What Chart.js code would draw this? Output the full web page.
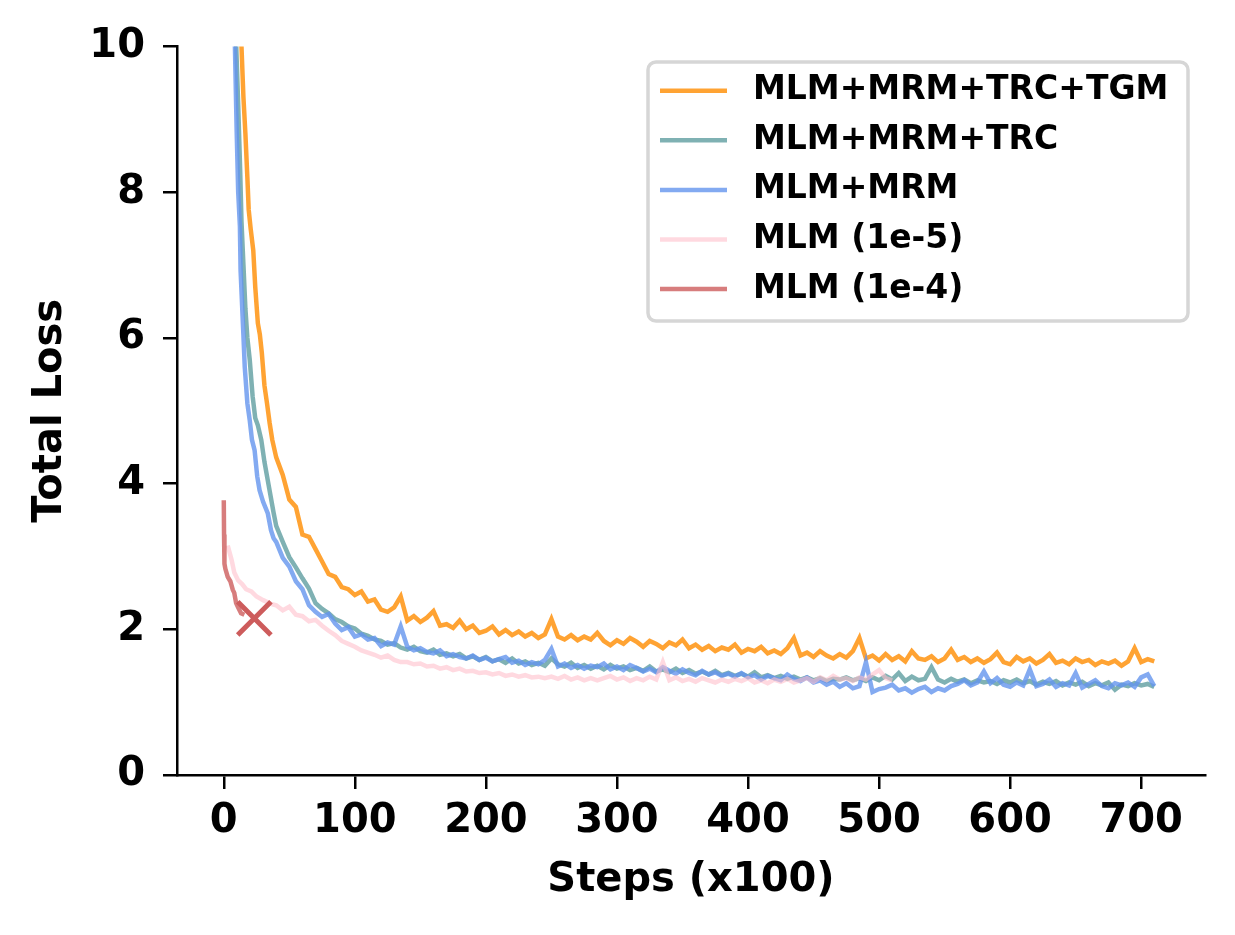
<!DOCTYPE html>
<html>
<head>
<meta charset="utf-8">
<script src="https://cdn.jsdelivr.net/npm/chart.js@4.4.1/dist/chart.umd.min.js"></script>
<style>
  html, body { margin: 0; padding: 0; background: #fff; }
  #wrap { width: 1235px; height: 935px; }
</style>
</head>
<body>
<div id="wrap"><canvas id="lossChart" width="1235" height="935"></canvas></div>
<script>
// legend names, in legend order
var seriesNames = ['MLM+MRM+TRC+TGM', 'MLM+MRM+TRC', 'MLM+MRM', 'MLM (1e-5)', 'MLM (1e-4)'];
var xTicks = [0, 100, 200, 300, 400, 500, 600, 700];
var yTicks = [0, 2, 4, 6, 8, 10];

// early part of each run (steps x100)
var tgmHeadSteps = [11, 12.5, 13.5, 15, 16.5, 18, 19, 20.5, 22.5, 24, 26, 27.5, 29, 31, 33, 35, 37];
var tgmHead = [11.2, 10.4, 10.0, 9.3, 8.8, 8.2, 7.76, 7.5, 7.2, 6.7, 6.2, 6.05, 5.8, 5.35, 5.1, 4.83, 4.6];
var trcHeadSteps = [8.5, 9.5, 11, 12.5, 13.5, 15, 16.5, 18, 19.8, 22, 24, 26, 28.6, 31, 33.6, 36, 38];
var trcHead = [11, 10, 9.2, 8.3, 7.6, 7.0, 6.4, 6.0, 5.7, 5.2, 4.9, 4.8, 4.6, 4.3, 4.04, 3.8, 3.6];
var mrmHeadSteps = [7.5, 8.5, 9.8, 11, 12.3, 12.8, 14.8, 16, 18, 19.8, 21.5, 23.5, 25.5, 27.3, 30, 33.6, 36, 38];
var mrmHead = [11, 10.0, 8.86, 8.0, 7.53, 6.93, 6.11, 5.6, 5.1, 4.87, 4.6, 4.46, 4.1, 3.91, 3.75, 3.59, 3.36, 3.25];
var mlm5HeadSteps = [3, 4.5, 6, 8, 11, 14, 17, 21, 25, 30, 36];
var mlm5Head = [3.15, 3.05, 2.95, 2.78, 2.67, 2.62, 2.55, 2.52, 2.45, 2.4, 2.35];
var mlm4Steps = [0, 0.2, 0.5, 1.2, 3, 5, 6.9, 8, 9.4, 11, 13.2, 15.7];
var mlm4 = [3.77, 3.3, 2.9, 2.83, 2.72, 2.66, 2.54, 2.5, 2.36, 2.3, 2.22, 2.2];
var divergeStep = [23.3];
var divergeLoss = [2.15];

// later part, sampled every 5 steps from step 40
var tailStart = 40, tailEvery = 5;
var tgmTail = [
  4.36, 4.12, 3.78, 3.68, 3.30, 3.27, 3.10, 2.93, 2.76, 2.72,
  2.58, 2.55, 2.47, 2.52, 2.38, 2.41, 2.27, 2.24, 2.30, 2.45,
  2.12, 2.18, 2.10, 2.16, 2.25, 2.05, 2.07, 2.02, 2.12, 2.00,
  2.05, 1.95, 1.98, 2.04, 1.93, 1.99, 1.92, 1.97, 1.90, 1.95,
  1.88, 1.93, 2.14, 1.90, 1.86, 1.92, 1.85, 1.90, 1.86, 1.95,
  1.84, 1.78, 1.85, 1.80, 1.88, 1.83, 1.76, 1.84, 1.80, 1.74,
  1.82, 1.78, 1.86, 1.74, 1.79, 1.72, 1.77, 1.70, 1.75, 1.72,
  1.79, 1.68, 1.73, 1.70, 1.76, 1.67, 1.71, 1.66, 1.74, 1.88,
  1.64, 1.68, 1.62, 1.70, 1.64, 1.60, 1.66, 1.61, 1.70, 1.88,
  1.60, 1.64, 1.57, 1.66, 1.58, 1.63, 1.56, 1.70, 1.60, 1.58,
  1.63, 1.55, 1.60, 1.72, 1.58, 1.62, 1.55, 1.60, 1.54, 1.59,
  1.68, 1.55, 1.52, 1.62, 1.56, 1.60, 1.53, 1.58, 1.66, 1.54,
  1.57, 1.52, 1.60, 1.55, 1.58, 1.51, 1.56, 1.53, 1.57, 1.50,
  1.56, 1.74, 1.55, 1.59, 1.56
];
var trcTail = [
  3.42, 3.20, 2.99, 2.85, 2.70, 2.56, 2.36, 2.28, 2.22, 2.14,
  2.10, 2.04, 2.01, 1.94, 1.91, 1.86, 1.84, 1.79, 1.81, 1.75,
  1.72, 1.76, 1.70, 1.68, 1.72, 1.65, 1.67, 1.63, 1.66, 1.60,
  1.63, 1.58, 1.62, 1.56, 1.59, 1.54, 1.60, 1.53, 1.56, 1.51,
  1.54, 1.50, 1.60, 1.52, 1.49, 1.54, 1.47, 1.51, 1.46, 1.50,
  1.45, 1.51, 1.46, 1.49, 1.44, 1.47, 1.43, 1.49, 1.42, 1.45,
  1.41, 1.46, 1.40, 1.44, 1.39, 1.42, 1.38, 1.43, 1.37, 1.40,
  1.36, 1.39, 1.35, 1.41, 1.34, 1.37, 1.33, 1.36, 1.32, 1.35,
  1.31, 1.34, 1.30, 1.33, 1.29, 1.32, 1.31, 1.34, 1.30, 1.33,
  1.29, 1.34, 1.30, 1.36, 1.31, 1.40, 1.29, 1.35, 1.30, 1.32,
  1.48, 1.31, 1.27, 1.32, 1.28, 1.31, 1.26, 1.30, 1.27, 1.29,
  1.25, 1.30, 1.27, 1.31, 1.26, 1.29, 1.24, 1.28, 1.25, 1.29,
  1.23, 1.27, 1.24, 1.28, 1.22, 1.26, 1.23, 1.27, 1.17, 1.24,
  1.22, 1.26, 1.23, 1.25, 1.21
];
var mrmTail = [
  3.20, 2.98, 2.86, 2.66, 2.55, 2.33, 2.24, 2.17, 2.21, 2.08,
  1.99, 2.03, 1.90, 1.93, 1.86, 1.88, 1.77, 1.82, 1.79, 2.04,
  1.76, 1.71, 1.74, 1.69, 1.67, 1.71, 1.63, 1.66, 1.62, 1.60,
  1.64, 1.58, 1.61, 1.56, 1.59, 1.62, 1.54, 1.57, 1.51, 1.55,
  1.52, 1.58, 1.73, 1.49, 1.53, 1.47, 1.51, 1.46, 1.50, 1.48,
  1.53, 1.45, 1.49, 1.44, 1.51, 1.47, 1.42, 1.46, 1.41, 1.48,
  1.43, 1.39, 1.45, 1.40, 1.37, 1.43, 1.38, 1.41, 1.36, 1.39,
  1.35, 1.40, 1.34, 1.37, 1.31, 1.36, 1.33, 1.30, 1.38, 1.32,
  1.29, 1.34, 1.27, 1.30, 1.24, 1.28, 1.21, 1.26, 1.19, 1.22,
  1.55, 1.14, 1.18, 1.20, 1.24, 1.16, 1.19, 1.13, 1.18, 1.21,
  1.14, 1.19, 1.16, 1.22, 1.25, 1.30, 1.23, 1.27, 1.42, 1.26,
  1.33, 1.24, 1.21, 1.27, 1.23, 1.45, 1.22, 1.25, 1.31, 1.21,
  1.26, 1.23, 1.40, 1.20, 1.25, 1.30, 1.22, 1.19, 1.26, 1.23,
  1.27, 1.21, 1.34, 1.38, 1.22
];
var mlm5Tail = [
  2.33, 2.26, 2.31, 2.20, 2.18, 2.11, 2.13, 2.05, 1.98, 1.92,
  1.84, 1.80, 1.76, 1.71, 1.68, 1.65, 1.61, 1.64, 1.58, 1.55,
  1.55, 1.52, 1.53, 1.49, 1.50, 1.46, 1.48, 1.44, 1.46, 1.42,
  1.43, 1.40, 1.41, 1.38, 1.40, 1.36, 1.38, 1.35, 1.37, 1.34,
  1.35, 1.33, 1.35, 1.32, 1.36, 1.31, 1.34, 1.30, 1.33, 1.30,
  1.33, 1.36, 1.31, 1.34, 1.29, 1.33, 1.30, 1.35, 1.31, 1.55,
  1.30, 1.34, 1.29, 1.32, 1.28, 1.33, 1.30, 1.27, 1.31, 1.28,
  1.32, 1.29, 1.33, 1.27, 1.30, 1.26, 1.31, 1.28, 1.32, 1.27,
  1.30, 1.33, 1.28, 1.34, 1.30, 1.36, 1.31, 1.33, 1.29, 1.34,
  1.31, 1.38, 1.44, 1.33, 1.30
];

var colors = ['rgba(255,140,0,0.8)', 'rgba(95,158,160,0.8)', 'rgba(100,149,237,0.8)',
              'rgba(255,192,203,0.6)', 'rgba(205,92,92,0.8)'];

function toPoints(steps, vals) {
  return vals.map(function (v, i) { return { x: steps[i], y: v }; });
}
function withTail(headSteps, head, tail) {
  var pts = toPoints(headSteps, head);
  tail.forEach(function (v, i) { pts.push({ x: tailStart + i * tailEvery, y: v }); });
  return pts;
}

function lineSet(name, color, pts) {
  return {
    label: name, data: pts, borderColor: color, backgroundColor: color,
    borderWidth: 4.5, pointRadius: 0, tension: 0, fill: false
  };
}

// first dataset is drawn on top, so the list runs from top to bottom
var datasets = [
  {
    label: 'diverged', data: toPoints(divergeStep, divergeLoss), showLine: false,
    pointStyle: 'crossRot', pointRadius: 23.5, borderWidth: 5,
    borderColor: 'rgb(205,92,92)', backgroundColor: 'rgb(205,92,92)'
  },
  lineSet(seriesNames[4], colors[4], toPoints(mlm4Steps, mlm4)),
  lineSet(seriesNames[3], colors[3], withTail(mlm5HeadSteps, mlm5Head, mlm5Tail)),
  lineSet(seriesNames[2], colors[2], withTail(mrmHeadSteps, mrmHead, mrmTail)),
  lineSet(seriesNames[1], colors[1], withTail(trcHeadSteps, trcHead, trcTail)),
  lineSet(seriesNames[0], colors[0], withTail(tgmHeadSteps, tgmHead, tgmTail))
];

// matplotlib-style legend box inside the axes
var legendBox = {
  id: 'legendBox',
  afterDraw: function (chart) {
    var ctx = chart.ctx;
    ctx.save();
    ctx.beginPath();
    ctx.roundRect(648, 62, 540, 259, 8);
    ctx.fillStyle = 'rgba(255,255,255,0.8)';
    ctx.fill();
    ctx.lineWidth = 3.5;
    ctx.strokeStyle = '#d6d6d6';
    ctx.stroke();
    ctx.font = 'bold 33px "DejaVu Sans"';
    ctx.textBaseline = 'middle';
    ctx.textAlign = 'left';
    seriesNames.forEach(function (name, i) {
      var y = 90.7 + i * 49.6;
      ctx.beginPath();
      ctx.moveTo(660, y);
      ctx.lineTo(727, y);
      ctx.lineWidth = 4.5;
      ctx.strokeStyle = colors[i];
      ctx.stroke();
      ctx.fillStyle = '#000';
      ctx.fillText(name, 753, y);
    });
    ctx.restore();
  }
};

Chart.defaults.font.family = '"DejaVu Sans", sans-serif';
Chart.defaults.font.weight = 'bold';
Chart.defaults.color = '#000';

var ctx = document.getElementById('lossChart').getContext('2d');
var lossChart = new Chart(ctx, {
  type: 'line',
  data: { datasets: datasets },
  plugins: [legendBox],
  options: {
    responsive: false,
    animation: false,
    events: [],
    layout: { padding: { left: 0, top: 46.5, right: 30, bottom: 0 } },
    plugins: { legend: { display: false }, tooltip: { enabled: false } },
    scales: {
      x: {
        type: 'linear', min: -35.7, max: 748.7,
        afterBuildTicks: function (scale) {
          scale.ticks = xTicks.map(function (v) { return { value: v }; });
        },
        afterFit: function (scale) { scale.height = 160; },
        grid: { display: true, drawOnChartArea: false, drawTicks: true, tickLength: 14, lineWidth: 2.5, color: '#000' },
        border: { display: true, width: 2.5, color: '#000' },
        ticks: { font: { size: 40, weight: 'bold' }, padding: 9, maxRotation: 0, color: '#000' },
        title: { display: true, text: 'Steps (x100)', font: { size: 40, weight: 'bold' }, padding: { top: 0, bottom: 30 }, color: '#000' }
      },
      y: {
        type: 'linear', min: 0, max: 10,
        afterBuildTicks: function (scale) {
          scale.ticks = yTicks.map(function (v) { return { value: v }; });
        },
        afterFit: function (scale) { scale.width = 177; },
        grid: { display: true, drawOnChartArea: false, drawTicks: true, tickLength: 14, lineWidth: 2.5, color: '#000' },
        border: { display: true, width: 2.5, color: '#000' },
        ticks: { font: { size: 40, weight: 'bold' }, padding: 18, color: '#000' },
        title: { display: true, text: 'Total Loss', font: { size: 40, weight: 'bold' }, padding: { top: 27, bottom: 0 }, color: '#000' }
      }
    }
  }
});
</script>
</body>
</html>
